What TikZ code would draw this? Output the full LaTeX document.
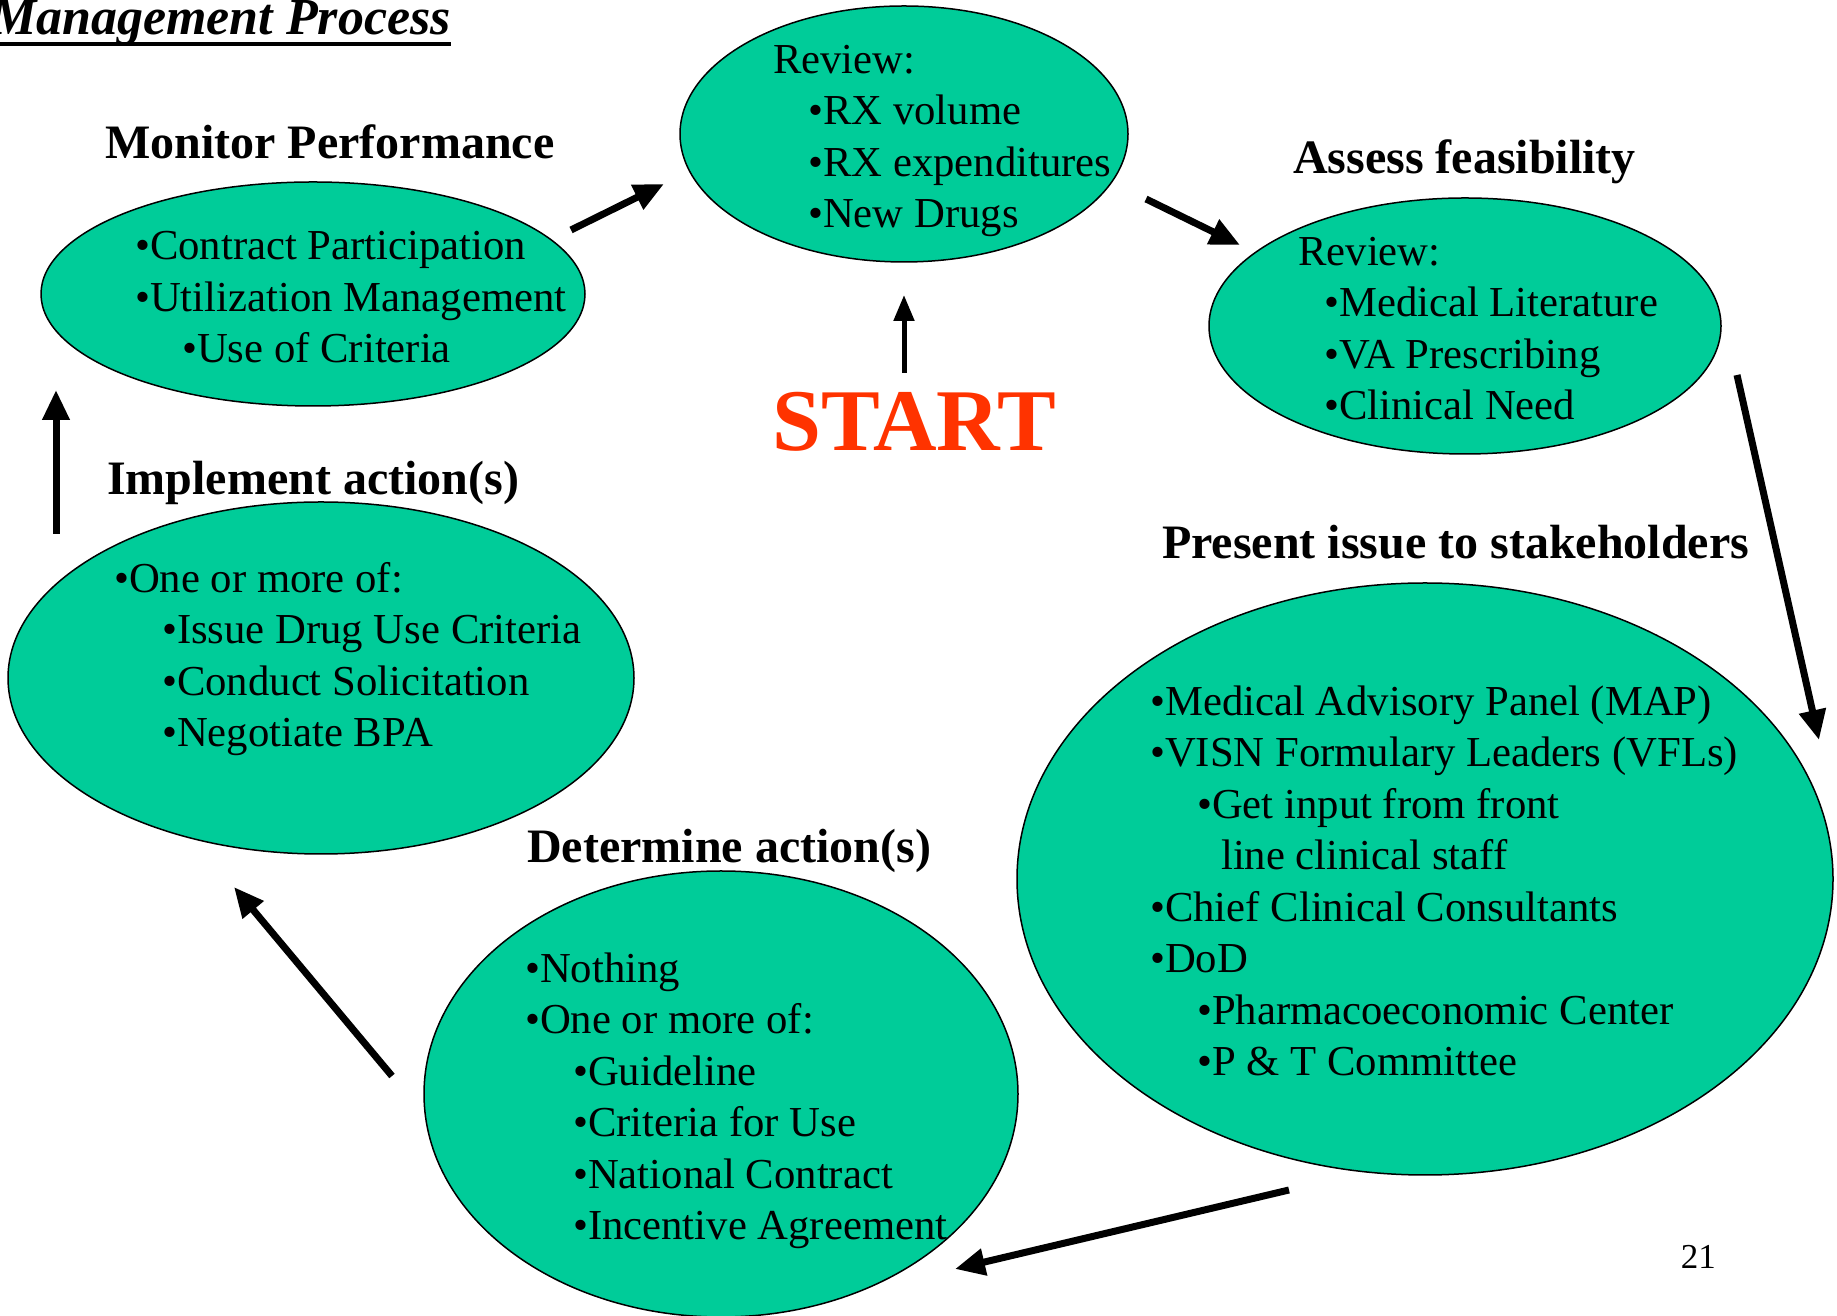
\documentclass[tikz,border=0pt]{standalone}
\usepackage{fontspec}
\setmainfont{Liberation Serif}
\usetikzlibrary{shapes.geometric,arrows.meta}
\definecolor{ovalfill}{RGB}{0,204,153}
\definecolor{startred}{RGB}{255,51,0}
\tikzset{
  oval/.style={ellipse,draw=black,fill=ovalfill,line width=1.5bp,inner sep=0pt},
  body/.style={anchor=base west,inner sep=0pt,align=left,
    font=\fontsize{42.7bp}{51.5bp}\selectfont},
  heading/.style={anchor=base west,inner sep=0pt,
    font=\fontsize{48bp}{56bp}\selectfont\bfseries},
  flow/.style={-{Triangle[length=30bp,width=26bp]},line width=7bp},
}
\newcommand{\ind}[1]{\hspace*{#1bp}}
\begin{document}
\begin{tikzpicture}[line join=bevel]
  \useasboundingbox (0bp,0bp) rectangle (1837bp,1316bp);
%%
  % Node: title
  \node[anchor=base east,inner sep=0pt,
    font=\fontsize{52bp}{60bp}\selectfont\bfseries\itshape] (ttl) at (451bp,1281bp) {Management Process};
  \draw[line width=4.5bp] ([yshift=-9bp]ttl.base west) -- ([yshift=-9bp]ttl.base east);
  % Node: review
  \node[oval,minimum width=448bp,minimum height=256bp] (review) at (904bp,1182bp) {};
  \node[body] (revtext) at (773bp,1088bp) {Review:\\\ind{35}•RX volume\\\ind{35}•RX expenditures\\\ind{35}•New Drugs};
  % Node: monitor
  \node[heading] (monhead) at (105bp,1157bp) {Monitor Performance};
  \node[oval,minimum width=544bp,minimum height=224bp] (monitor) at (313bp,1022bp) {};
  \node[body] (montext) at (135bp,953bp) {•Contract Participation\\•Utilization Management\\\ind{47}•Use of Criteria};
  % Node: assess
  \node[heading] (asshead) at (1293bp,1142bp) {Assess feasibility};
  \node[oval,minimum width=512bp,minimum height=256bp] (assess) at (1465bp,990bp) {};
  \node[body] (asstext) at (1298bp,896bp) {Review:\\\ind{26}•Medical Literature\\\ind{26}•VA Prescribing\\\ind{26}•Clinical Need};
  % Node: start
  \node[anchor=base west,inner sep=0pt,text=startred,
    font=\fontsize{88bp}{94bp}\selectfont\bfseries] (start) at (772bp,865bp) {START};
  % Node: implement
  \node[heading] (imphead) at (107bp,821bp) {Implement action(s)};
  \node[oval,minimum width=626bp,minimum height=352bp] (implement) at (321bp,638bp) {};
  \node[body] (imptext) at (114bp,569bp) {•One or more of:\\\ind{48}•Issue Drug Use Criteria\\\ind{48}•Conduct Solicitation\\\ind{48}•Negotiate BPA};
  % Node: present
  \node[heading] (prehead) at (1162bp,757bp) {Present issue to stakeholders};
  \node[oval,minimum width=816bp,minimum height=592bp] (present) at (1425bp,437bp) {};
  \node[body] (pretext) at (1150bp,240bp) {•Medical Advisory Panel (MAP)\\•VISN Formulary Leaders (VFLs)\\\ind{47}•Get input from front\\\ind{71}line clinical staff\\•Chief Clinical Consultants\\•DoD\\\ind{47}•Pharmacoeconomic Center\\\ind{47}•P \& T Committee};
  % Node: determine
  \node[heading] (dethead) at (527bp,453bp) {Determine action(s)};
  \node[oval,minimum width=594bp,minimum height=446bp] (determine) at (721bp,222bp) {};
  \node[body] (dettext) at (525bp,76bp) {•Nothing\\•One or more of:\\\ind{48}•Guideline\\\ind{48}•Criteria for Use\\\ind{48}•National Contract\\\ind{48}•Incentive Agreement};
  % Node: page
  \node[anchor=base east,inner sep=0pt,font=\fontsize{35bp}{40bp}\selectfont] (page) at (1716bp,47bp) {21};
%%
  \coordinate (mon-out) at (571bp,1086bp);
  \coordinate (rev-in)  at (664bp,1132bp);
  \coordinate (rev-out) at (1146bp,1117bp);
  \coordinate (ass-in)  at (1240bp,1071bp);
  \coordinate (sta-out) at (904bp,943bp);
  \coordinate (rev-low) at (904bp,1021bp);
  \coordinate (ass-out) at (1737bp,941bp);
  \coordinate (pre-in)  at (1819bp,576bp);
  \coordinate (pre-out) at (1289bp,126bp);
  \coordinate (det-in)  at (955bp,47bp);
  \coordinate (det-out) at (392bp,240bp);
  \coordinate (imp-in)  at (234bp,429bp);
  \coordinate (imp-out) at (56bp,782bp);
  \coordinate (mon-in)  at (56bp,926bp);
  % Edge: monitor -> review
  \draw[flow] (mon-out) -- (rev-in);
  % Edge: review -> assess
  \draw[flow] (rev-out) -- (ass-in);
  % Edge: start -> review
  \draw[flow,line width=5bp,-{Triangle[length=26bp,width=20bp]}] (sta-out) -- (rev-low);
  % Edge: assess -> present
  \draw[flow] (ass-out) -- (pre-in);
  % Edge: present -> determine
  \draw[flow] (pre-out) -- (det-in);
  % Edge: determine -> implement
  \draw[flow] (det-out) -- (imp-in);
  % Edge: implement -> monitor
  \draw[flow] (imp-out) -- (mon-in);
%
\end{tikzpicture}
\end{document}
